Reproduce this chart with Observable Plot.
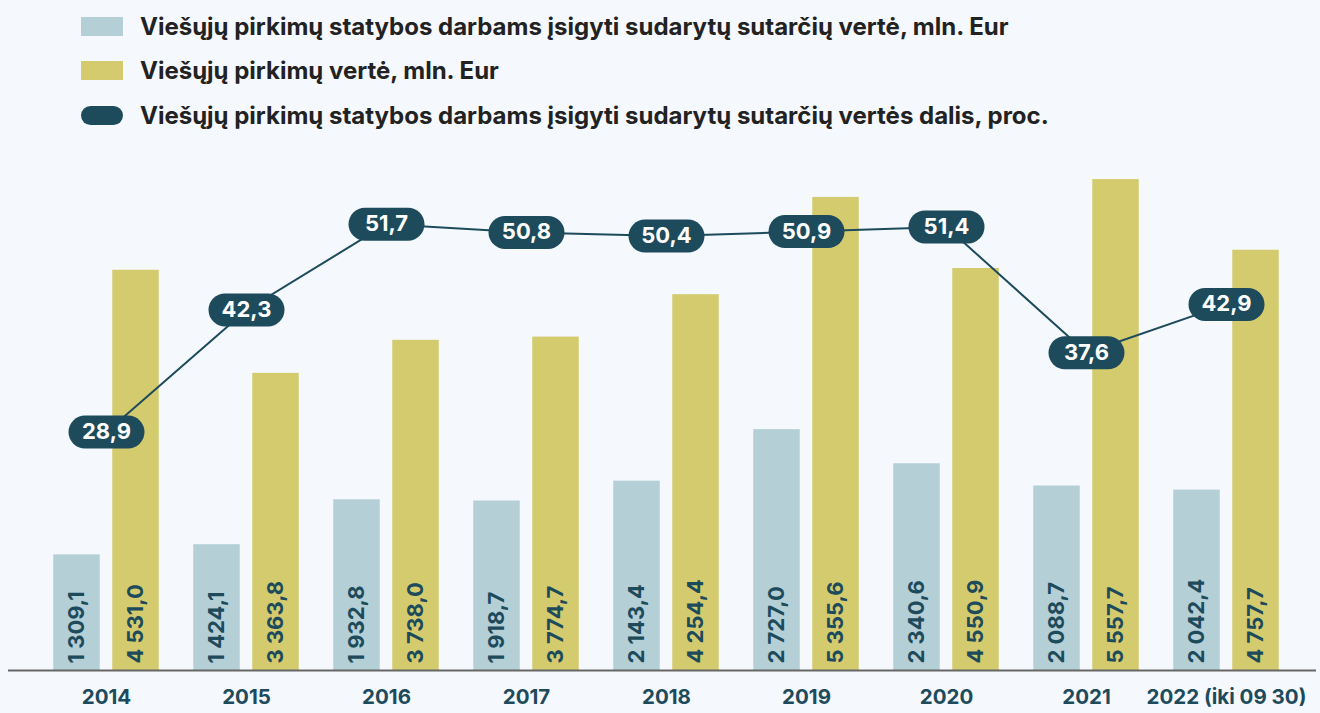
<!DOCTYPE html>
<html>
<head>
<meta charset="utf-8">
<script src="https://cdn.jsdelivr.net/npm/d3@7"></script>
<script src="https://cdn.jsdelivr.net/npm/@observablehq/plot@0.6"></script>
<style>
  html, body { margin: 0; padding: 0; background: #f5f8fc; }
  body { width: 1320px; height: 713px; overflow: hidden; font-family: Inter, "Noto Sans", sans-serif; }
  #legend { position: relative; height: 140px; }
  .row { position: absolute; left: 81px; display: flex; align-items: center; height: 28px; }
  .sw { width: 42px; height: 19px; margin-right: 17px; }
  .lbl { font-size: 24px; font-weight: 700; color: #222; white-space: nowrap; }
  #chart svg { display: block; }
</style>
</head>
<body>
<div id="legend"></div>
<div id="chart"></div>
<script>
// ---- data ----
const years = ["2014", "2015", "2016", "2017", "2018", "2019", "2020", "2021", "2022 (iki 09 30)"];
const construction = [1309.1, 1424.1, 1932.8, 1918.7, 2143.4, 2727.0, 2340.6, 2088.7, 2042.4];
const total = [4531.0, 3363.8, 3738.0, 3774.7, 4254.4, 5355.6, 4550.9, 5557.7, 4757.7];
const share = [28.9, 42.3, 51.7, 50.8, 50.4, 50.9, 51.4, 37.6, 42.9];
const seriesNames = [
  "Viešųjų pirkimų statybos darbams įsigyti sudarytų sutarčių vertė, mln. Eur",
  "Viešųjų pirkimų vertė, mln. Eur",
  "Viešųjų pirkimų statybos darbams įsigyti sudarytų sutarčių vertės dalis, proc."
];
const colors = ["#b5cfd6", "#d4cb6e", "#1d4b5c"];

// ---- legend ----
const legend = document.getElementById("legend");
const rowTops = [12, 56, 101];
seriesNames.forEach((name, i) => {
  const row = document.createElement("div");
  row.className = "row";
  row.style.top = rowTops[i] + "px";
  const sw = document.createElement("div");
  sw.className = "sw";
  sw.style.background = colors[i];
  if (i === 2) sw.style.borderRadius = "10px";
  const lb = document.createElement("div");
  lb.className = "lbl";
  lb.textContent = name;
  row.appendChild(sw); row.appendChild(lb);
  legend.appendChild(row);
});

// ---- chart ----
const loc = d3.formatLocale({decimal: ",", thousands: " ", grouping: [3], currency: ["", ""]});
const fmt = loc.format(",.1f");
const fmtPct = loc.format(".1f");

const data = years.map((y, i) => ({year: y, c: construction[i], t: total[i], p: share[i]}));
// map percentage to the bar value axis (secondary scale)
const pctToVal = (v) => 103.2 * v - 283;

const pill = {
  draw(context) {
    const w = 76, h = 33, r = 16.5;
    context.moveTo(-w / 2 + r, -h / 2);
    context.lineTo(w / 2 - r, -h / 2);
    context.arc(w / 2 - r, 0, r, -Math.PI / 2, Math.PI / 2);
    context.lineTo(-w / 2 + r, h / 2);
    context.arc(-w / 2 + r, 0, r, Math.PI / 2, 3 * Math.PI / 2);
    context.closePath();
  }
};

const band = 140.5;
const chart = Plot.plot({
  width: 1320,
  height: 573,
  marginTop: 0,
  marginBottom: 43,
  marginLeft: 8,
  marginRight: 4,
  style: {background: "transparent", fontFamily: "Inter, 'Noto Sans', sans-serif"},
  x: {domain: years, range: [33.75, 33.75 + band * years.length], padding: 0},
  y: {domain: [0, 6000], axis: null},
  marks: [
    Plot.barY(data, {x: "year", y: "c", fill: colors[0], insetLeft: 17.25, insetRight: 76.25}),
    Plot.barY(data, {x: "year", y: "t", fill: colors[1], insetLeft: 76.25, insetRight: 17.25}),
    Plot.ruleY([0], {stroke: "#666", strokeWidth: 2}),
    Plot.text(data, {x: "year", y: 0, text: (d) => fmt(d.c), rotate: -90, textAnchor: "start",
      dx: -29.5, dy: -7, fontSize: 22, fontWeight: 700, fill: colors[2]}),
    Plot.text(data, {x: "year", y: 0, text: (d) => fmt(d.t), rotate: -90, textAnchor: "start",
      dx: 29.5, dy: -7, fontSize: 22, fontWeight: 700, fill: colors[2]}),
    Plot.line(data, {x: "year", y: (d) => pctToVal(d.p), stroke: colors[2], strokeWidth: 2}),
    Plot.dot(data, {x: "year", y: (d) => pctToVal(d.p), symbol: pill, fill: colors[2], stroke: null}),
    Plot.text(data, {x: "year", y: (d) => pctToVal(d.p), text: (d) => fmtPct(d.p), fill: "white",
      fontSize: 22, fontWeight: 700}),
    Plot.axisX({tickSize: 0, tickPadding: 19, fontSize: 20.5, fontWeight: 700, fill: colors[2], label: null})
  ]
});
document.getElementById("chart").appendChild(chart);
</script>
</body>
</html>
